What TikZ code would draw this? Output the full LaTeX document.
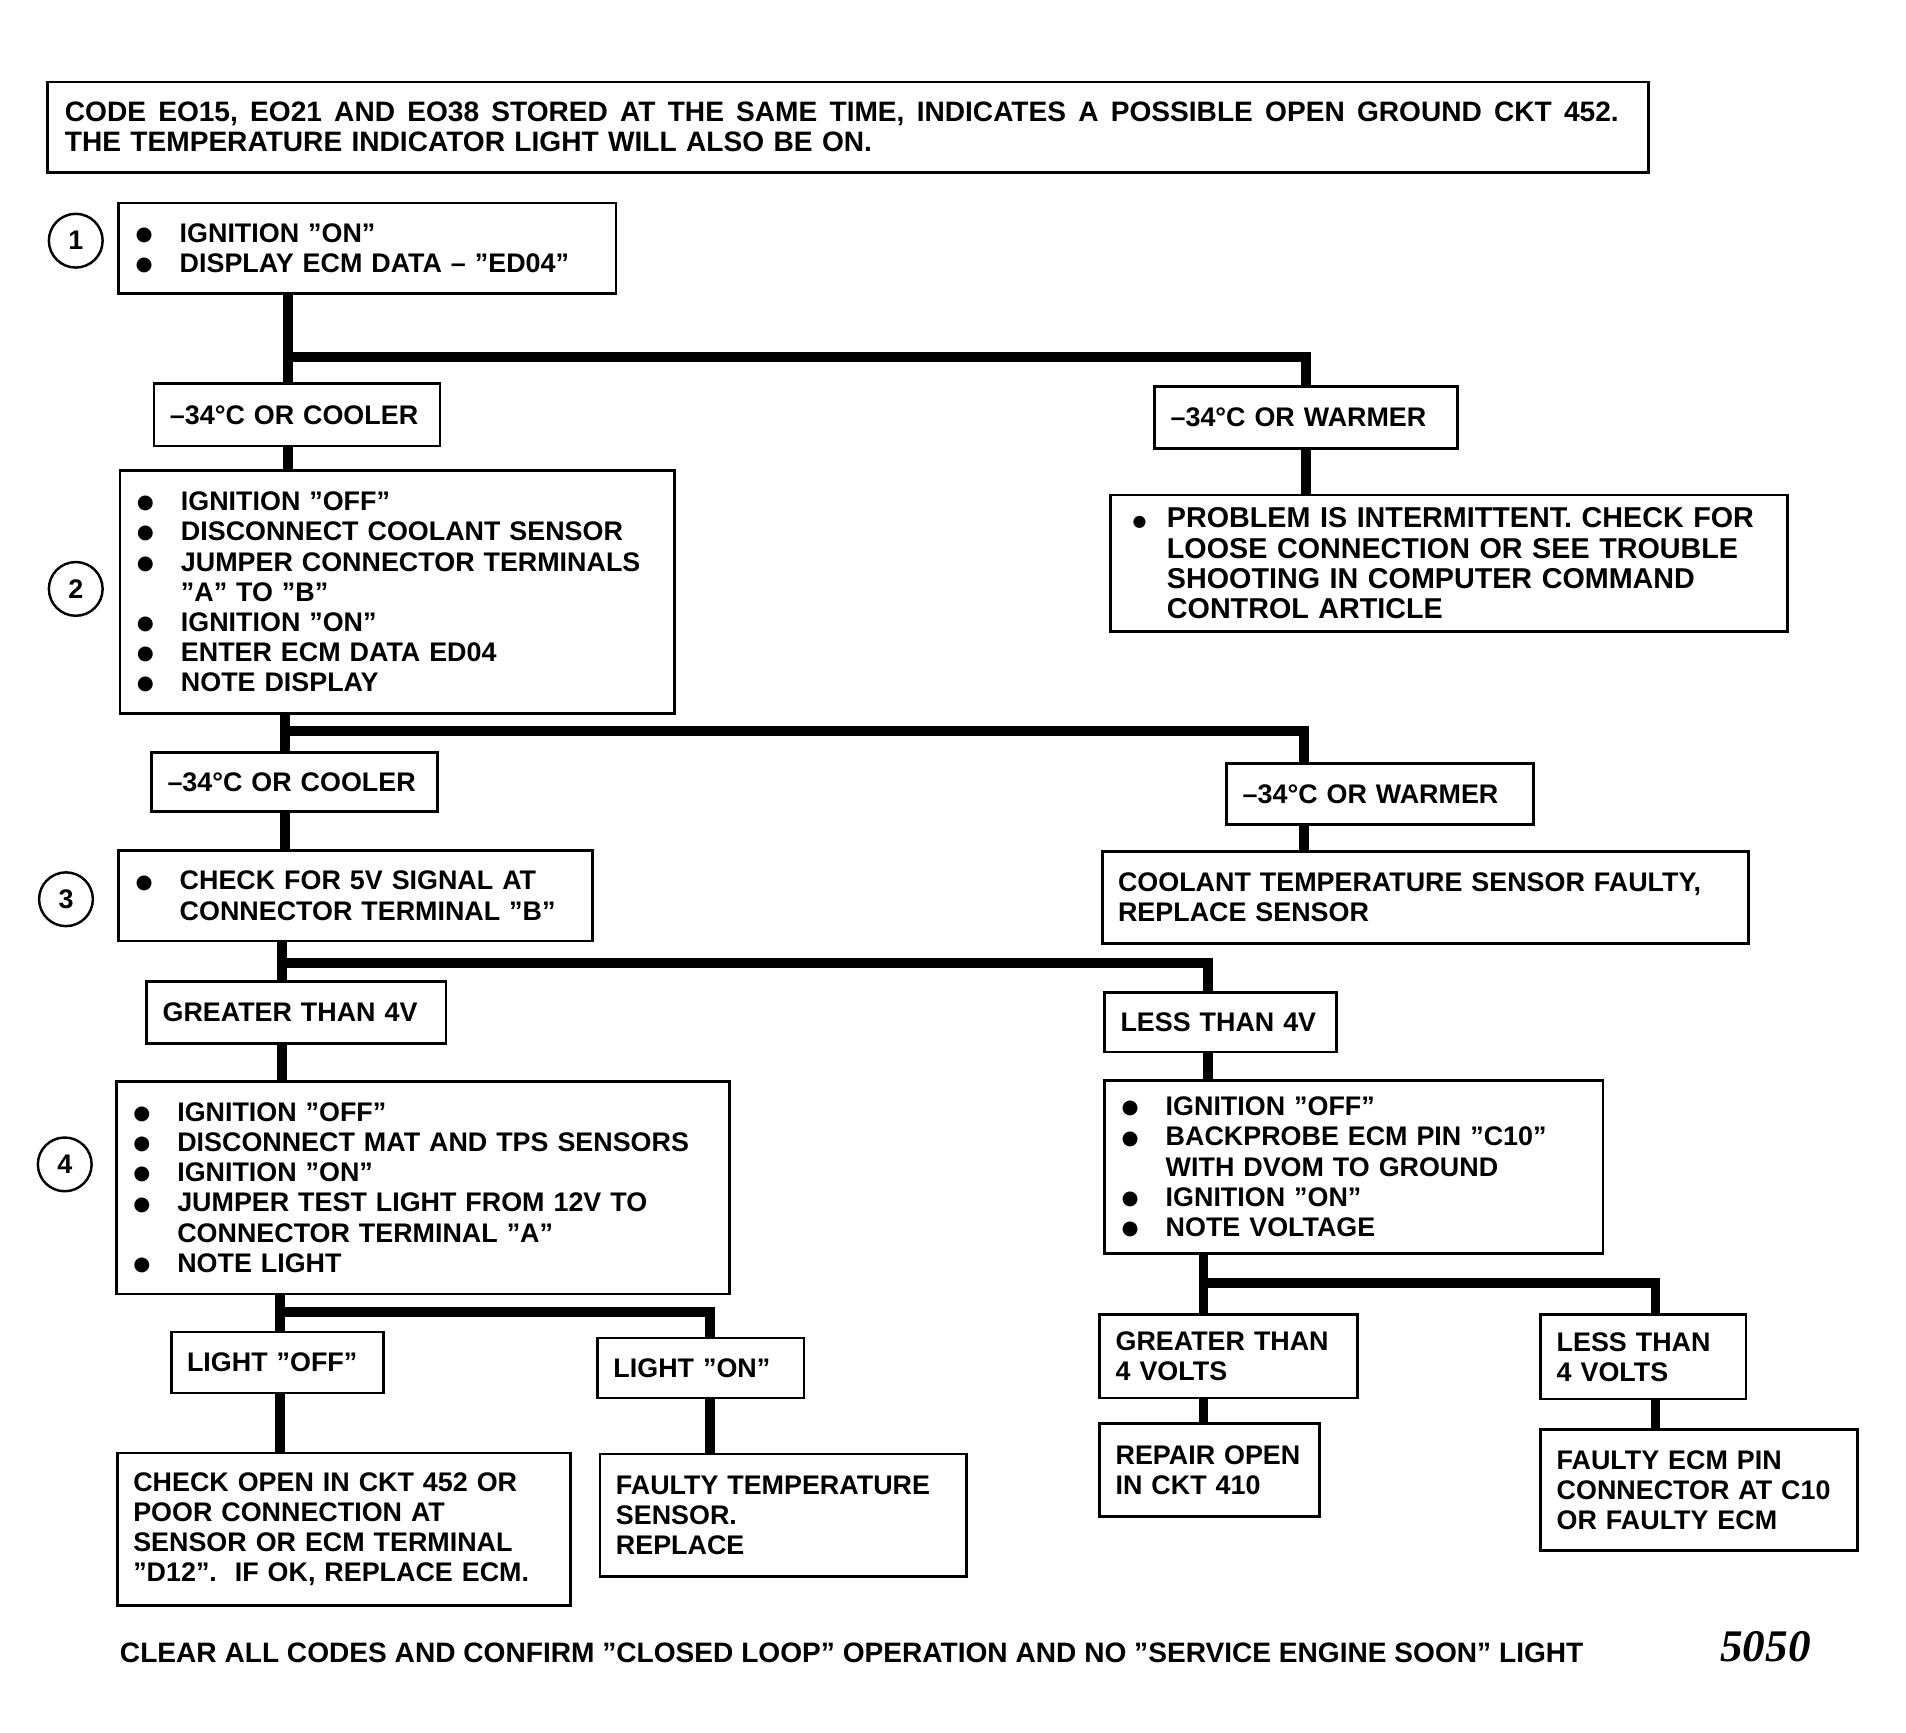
\documentclass[tikz,border=0pt]{standalone}
\usepackage{fontspec}
\setmainfont{Liberation Sans}
\newfontfamily\PageNumFont{Liberation Serif}
\newfontfamily\DotFont{DejaVu Sans}
\usetikzlibrary{calc}

\newcommand{\ItemDot}{\makebox[36pt][l]{\raisebox{1.5pt}{\DotFont\fontsize{16}{16}\selectfont ●}}}
\newcommand{\ItemGap}{\hspace*{36pt}}

\tikzset{
  StepBox/.style={draw, line width=2.2pt, anchor=north west, align=left,
    inner xsep=13pt, inner ysep=0pt, font=\bfseries\fontsize{22}{24.7}\selectfont},
  ListBox/.style={StepBox, inner xsep=14pt},
  StepNum/.style={circle, draw, line width=2pt, minimum size=44pt, inner sep=0pt,
    font=\bfseries\fontsize{22}{22}\selectfont},
  Trunk/.style={line width=8pt}
}

\begin{document}
\begin{tikzpicture}[x=1pt,y=-1pt]
\useasboundingbox (0,0) rectangle (1560,1418);

\node[ListBox, text width=1282pt, minimum height=74pt, font=\bfseries\fontsize{23}{24.7}\selectfont] (hdr) at (38,66)
  {{\spaceskip=10pt\relax CODE EO15, EO21 AND EO38 STORED AT THE SAME TIME, INDICATES A POSSIBLE OPEN GROUND CKT 452.}\\
   THE TEMPERATURE INDICATOR LIGHT WILL ALSO BE ON.};

\node[StepNum] (n1) at (62,197) {1};
\node[StepNum] (n2) at (62,482) {2};
\node[StepNum] (n3) at (54,736) {3};
\node[StepNum] (n4) at (53,953) {4};

\node[ListBox, text width=379pt, minimum height=74pt] (b1) at (96,165)
  {\ItemDot IGNITION "ON"\\ \ItemDot DISPLAY ECM DATA – "ED04"};
\node[StepBox, text width=208pt, minimum height=51pt] (l1) at (125,313) {–34°C OR COOLER};
\node[StepBox, text width=222pt, minimum height=51pt] (r1) at (944,315) {–34°C OR WARMER};
\node[ListBox, text width=426pt, minimum height=199pt] (b2) at (97,384)
  {\ItemDot IGNITION "OFF"\\ \ItemDot DISCONNECT COOLANT SENSOR\\ \ItemDot JUMPER CONNECTOR TERMINALS\\
   \ItemGap "A" TO "B"\\ \ItemDot IGNITION "ON"\\ \ItemDot ENTER ECM DATA ED04\\ \ItemDot NOTE DISPLAY};
\node[StepBox, inner xsep=18pt, text width=518pt, minimum height=112pt,
  font=\bfseries\fontsize{23.5}{24.7}\selectfont] (p1) at (908,404)
  {\makebox[28pt][l]{\raisebox{1.5pt}{\DotFont\fontsize{13}{13}\selectfont ●}}PROBLEM IS INTERMITTENT. CHECK FOR\\
   \hspace*{28pt}LOOSE CONNECTION OR SEE TROUBLE\\ \hspace*{28pt}SHOOTING IN COMPUTER COMMAND\\
   \hspace*{28pt}CONTROL ARTICLE};

\node[StepBox, text width=208pt, minimum height=48pt] (l2) at (123,615) {–34°C OR COOLER};
\node[StepBox, text width=225pt, minimum height=50pt] (r2) at (1003,624) {–34°C OR WARMER};
\node[ListBox, text width=360pt, minimum height=74pt] (b3) at (96,695)
  {\ItemDot CHECK FOR 5V SIGNAL AT\\ \ItemGap CONNECTOR TERMINAL "B"};
\node[StepBox, text width=503pt, minimum height=75pt] (s2) at (901,696)
  {COOLANT TEMPERATURE SENSOR FAULTY,\\ REPLACE SENSOR};

\node[StepBox, text width=219pt, minimum height=51pt] (l3) at (119,802) {GREATER THAN 4V};
\node[StepBox, text width=164pt, minimum height=49pt] (r3) at (903,811) {LESS THAN 4V};
\node[ListBox, text width=474pt, minimum height=174pt] (b4) at (94,884)
  {\ItemDot IGNITION "OFF"\\ \ItemDot DISCONNECT MAT AND TPS SENSORS\\ \ItemDot IGNITION "ON"\\
   \ItemDot JUMPER TEST LIGHT FROM 12V TO\\ \ItemGap CONNECTOR TERMINAL "A"\\ \ItemDot NOTE LIGHT};
\node[ListBox, text width=380pt, minimum height=142pt] (s3) at (903,883)
  {\ItemDot IGNITION "OFF"\\ \ItemDot BACKPROBE ECM PIN "C10"\\ \ItemGap WITH DVOM TO GROUND\\
   \ItemDot IGNITION "ON"\\ \ItemDot NOTE VOLTAGE};

\node[StepBox, text width=148pt, minimum height=50pt] (l4) at (139,1089) {LIGHT "OFF"};
\node[StepBox, text width=143pt, minimum height=49pt] (r4) at (488,1094) {LIGHT "ON"};
\node[StepBox, text width=345pt, minimum height=125pt] (e1) at (95,1188)
  {CHECK OPEN IN CKT 452 OR\\ POOR CONNECTION AT\\ SENSOR OR ECM TERMINAL\\ "D12".\ \ IF OK, REPLACE ECM.};
\node[StepBox, text width=274pt, minimum height=100pt] (e2) at (490,1189)
  {FAULTY TEMPERATURE\\ SENSOR.\\ REPLACE};

\node[StepBox, text width=185pt, minimum height=68pt] (l5) at (899,1075) {GREATER THAN\\ 4 VOLTS};
\node[StepBox, text width=142pt, minimum height=69pt] (r5) at (1260,1075) {LESS THAN\\ 4 VOLTS};
\node[StepBox, text width=154pt, minimum height=76pt] (e3) at (899,1164) {REPAIR OPEN\\ IN CKT 410};
\node[StepBox, text width=233pt, minimum height=99pt] (e4) at (1260,1169)
  {FAULTY ECM PIN\\ CONNECTOR AT C10\\ OR FAULTY ECM};

\node[anchor=west, inner sep=0pt, font=\bfseries\fontsize{23}{24.7}\selectfont] (foot) at (98,1353)
  {CLEAR ALL CODES AND CONFIRM "CLOSED LOOP" OPERATION AND NO "SERVICE ENGINE SOON" LIGHT};
\node[inner sep=0pt, font=\PageNumFont\bfseries\itshape\fontsize{37}{37}\selectfont] (pnum) at (1445,1348) {5050};

\coordinate (j1) at (236,292);
\coordinate (k1) at (1069,292);
\coordinate (j2) at (233,598);
\coordinate (k2) at (1067,598);
\coordinate (j3) at (231,788);
\coordinate (k3) at (989,788);
\coordinate (j4) at (229,1074);
\coordinate (k4) at (581,1074);
\coordinate (j5) at (985,1050);
\coordinate (k5) at (1355,1050);

\draw[Trunk] (b1.south -| j1) -- (l1.north -| j1);
\draw[Trunk] (j1) -- (k1) -- (r1.north -| k1);
\draw[Trunk] (r1.south -| k1) -- (p1.north -| k1);
\draw[Trunk] (l1.south -| j1) -- (b2.north -| j1);

\draw[Trunk] (b2.south -| j2) -- (l2.north -| j2);
\draw[Trunk] (j2) -- (k2) -- (r2.north -| k2);
\draw[Trunk] (r2.south -| k2) -- (s2.north -| k2);
\draw[Trunk] (l2.south -| j2) -- (b3.north -| j2);

\draw[Trunk] (b3.south -| j3) -- (l3.north -| j3);
\draw[Trunk] (j3) -- (k3) -- (r3.north -| k3);
\draw[Trunk] (r3.south -| k3) -- (s3.north -| k3);
\draw[Trunk] (l3.south -| j3) -- (b4.north -| j3);

\draw[Trunk] (b4.south -| j4) -- (l4.north -| j4);
\draw[Trunk] (j4) -- (k4) -- (r4.north -| k4);
\draw[Trunk] (r4.south -| k4) -- (e2.north -| k4);
\draw[Trunk] (l4.south -| j4) -- (e1.north -| j4);

\draw[Trunk] (s3.south -| j5) -- (l5.north -| j5);
\draw[Trunk] (j5) -- (k5) -- (r5.north -| k5);
\draw[Trunk] (r5.south -| k5) -- (e4.north -| k5);
\draw[Trunk] (l5.south -| j5) -- (e3.north -| j5);

\end{tikzpicture}
\end{document}
